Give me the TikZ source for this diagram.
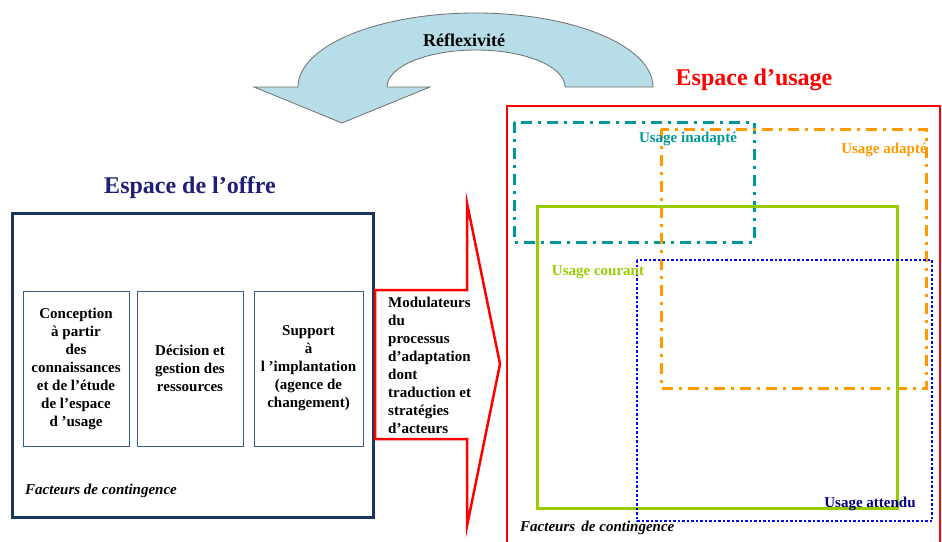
\documentclass[tikz,border=0pt]{standalone}
\usepackage{fontspec}
\setmainfont{Liberation Serif}
\usetikzlibrary{positioning}

\definecolor{offrenavy}{RGB}{23,55,94}
\definecolor{titlenavy}{RGB}{31,31,120}
\definecolor{boxblue}{RGB}{54,96,146}
\definecolor{reflexfill}{RGB}{183,222,232}
\definecolor{reflexline}{RGB}{110,110,110}
\definecolor{inadapte}{RGB}{0,153,153}
\definecolor{adapte}{RGB}{255,153,0}
\definecolor{courant}{RGB}{153,204,0}
\definecolor{attendu}{RGB}{0,0,255}
\definecolor{attendutext}{RGB}{0,0,128}

\begin{document}
\begin{tikzpicture}[
        x=1pt, y=-1pt,
        every node/.style={font=\bfseries\fontsize{15}{18}\selectfont, align=center, inner sep=0pt},
        espacetitle/.style={font=\bfseries\fontsize{24}{28}\selectfont},
        innerbox/.style={draw=boxblue, line width=1pt, minimum width=106pt, minimum height=155pt},
        contingence/.style={font=\bfseries\itshape\fontsize{15}{18}\selectfont, anchor=west},
        usagebox/.style={line width=3pt},
        dashdot/.style={dash pattern=on 11pt off 6pt on 3pt off 6pt}
    ]
        \useasboundingbox (0,0) rectangle (942,541);

        % espace de l'offre
        \node[draw=offrenavy, line width=3pt, minimum width=361pt, minimum height=304pt] (offre) at (192.5,365) {};
        \node[espacetitle, text=titlenavy] (offretitle) at (190,188) {Espace de l’offre};
        \node[innerbox] (conception) at (76,368.5) {Conception\\à partir\\des\\connaissances\\et de l’étude\\de l’espace\\d ’usage};
        \node[innerbox, right=7pt of conception] (decision) {Décision et\\gestion des\\ressources};
        \node[innerbox, right=10pt of decision, minimum width=109pt] (support) {Support\\à\\l ’implantation\\(agence de\\changement)};
        \node[contingence] (offrefact) at (25,491) {Facteurs de contingence};

        % modulateurs
        \draw[red, line width=2.5pt, fill=white] (375,290) -- (467,290) -- (467,203) -- (500,364)
            -- (467,526) -- (467,439) -- (375,439) -- cycle;
        \node[align=left, anchor=west] (modul) at (388,365) {Modulateurs\\du\\processus\\d’adaptation\\dont\\traduction et\\stratégies\\d’acteurs};

        % reflexivite
        \draw[reflexline, fill=reflexfill, line width=0.8pt] (653,87)
            arc[start angle=0, end angle=-180, x radius=177.5, y radius=74]
            -- (254,87) -- (342,123) -- (430,87) -- (387,87)
            arc[start angle=180, end angle=360, x radius=89, y radius=37] -- cycle;
        \node[font=\bfseries\fontsize{18}{22}\selectfont] (reflex) at (464,40) {Réflexivité};

        % espace d'usage
        \draw[red, line width=2.5pt] (507,548) -- (507,106) -- (940,106) -- (940,548);
        \node[espacetitle, text=red] (usagetitle) at (754,80) {Espace d’usage};
        \draw[usagebox, inadapte, dashdot] (514,122) rectangle (754,242);
        \draw[usagebox, adapte, dashdot] (661,129) rectangle (926,388);
        \draw[usagebox, courant] (537,206) rectangle (897,508);
        \draw[attendu, line width=2.5pt, dash pattern=on 2.5pt off 2pt] (637,260) rectangle (932,521);
        \node[text=inadapte] (inadaptelabel) at (688,139) {Usage inadapté};
        \node[text=adapte] (adaptelabel) at (884,150) {Usage adapté};
        \node[text=courant] (courantlabel) at (598,272) {Usage courant};
        \node[text=attendutext] (attendulabel) at (870,504) {Usage attendu};
        \node[contingence] (usagefact) at (520,528) {Facteurs\, de contingence};
    \end{tikzpicture}
\end{document}
